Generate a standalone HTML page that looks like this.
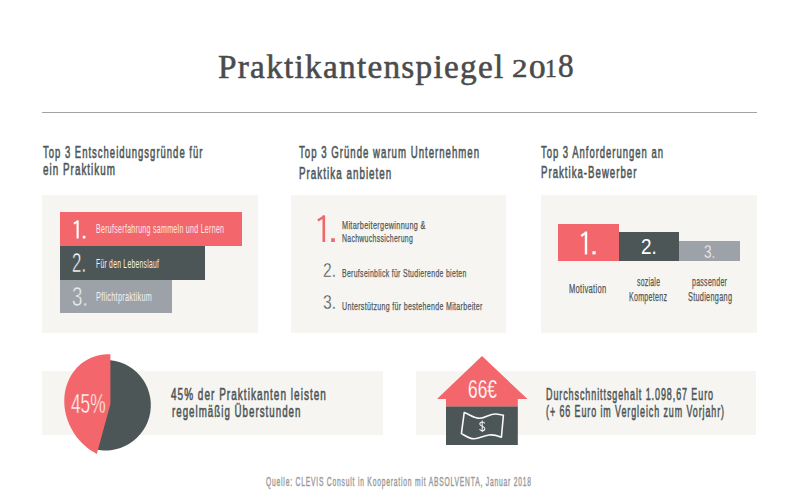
<!DOCTYPE html>
<html><head><meta charset="utf-8"><title>Praktikantenspiegel 2018</title>
<style>
html,body{margin:0;padding:0;background:#fff;}
body{width:800px;height:500px;position:relative;overflow:hidden;font-family:"Liberation Sans", sans-serif;}
.t{position:absolute;white-space:nowrap;line-height:1;transform-origin:0 0;}
.b{position:absolute;}
svg{position:absolute;left:0;top:0;}
</style></head><body>
<div class="b" style="left:42px;top:111.5px;width:715px;height:1.3px;background:#a3a3a3"></div>
<div class="b" style="left:42.2px;top:194.5px;width:216.1px;height:138.5px;background:#f6f5f1"></div>
<div class="b" style="left:291px;top:194.5px;width:215px;height:138px;background:#f6f5f1"></div>
<div class="b" style="left:541px;top:194.5px;width:215.6px;height:138.5px;background:#f6f5f1"></div>
<div class="b" style="left:41.6px;top:371px;width:341.2px;height:63.8px;background:#f6f5f1"></div>
<div class="b" style="left:416.2px;top:370.6px;width:340.3px;height:64.2px;background:#f6f5f1"></div>
<div class="b" style="left:59.6px;top:212px;width:182.1px;height:33.6px;background:#f3676c"></div>
<div class="b" style="left:59.6px;top:245.6px;width:145.3px;height:34px;background:#4c5657"></div>
<div class="b" style="left:59.6px;top:279.6px;width:112.8px;height:33px;background:#9da1a8"></div>
<div class="b" style="left:557.85px;top:224px;width:60.85px;height:36.6px;background:#f3676c"></div>
<div class="b" style="left:618.7px;top:232.3px;width:60.3px;height:28.3px;background:#4c5657"></div>
<div class="b" style="left:679px;top:240.7px;width:60.8px;height:19.9px;background:#9da1a8"></div>
<svg width="800" height="500" viewBox="0 0 800 500">
<path d="M105.6,405.2 L105.6,359.9 A45.3,45.3 0 1 1 91.6,448.3 Z" fill="#4c5657"/>
<polygon points="110.4,354.2 110.4,404 96.8,454 96.8,453.9 93.6,452.1 90.5,450.2 87.5,448.0 84.7,445.6 81.9,443.0 79.4,440.3 77.0,437.4 74.7,434.3 72.7,431.1 70.9,427.8 69.3,424.4 67.9,421.0 66.7,417.4 65.7,413.8 65.0,410.2 64.5,406.5 64.3,402.9 64.3,399.2 64.5,395.6 65.0,392.1 65.7,388.6 66.7,385.2 67.9,382.0 69.3,378.8 70.9,375.8 72.7,372.9 74.8,370.2 77.0,367.6 79.4,365.3 82.0,363.1 84.7,361.2 87.6,359.5 90.5,358.0 93.7,356.7 96.9,355.7 100.2,355.0 103.5,354.4 106.9,354.2 110.4,354.2" fill="#f3676c"/>
<polygon points="482,356 437,399.1 527.5,399.1" fill="#f3676c"/>
<rect x="446" y="399" width="71.8" height="7.6" fill="#f3676c"/>
<rect x="446" y="406.5" width="71.8" height="38.5" fill="#4c5657"/>
<path d="M464.2,412.6 C470,414.5 474,418.5 480,418.3 C486,418 490,413.5 496,414 C499,414.3 501.5,414.8 503.4,415.2 L501.4,437.2 C497,435.5 493,434.6 489,435 C483,435.6 479,439 474,438.8 C469,438.6 465,435.5 461.4,433.6 Z" fill="none" stroke="#f8f8f8" stroke-width="1.6" stroke-linejoin="round"/>
<path d="M484.8,423.4 C484.2,422.4 483.3,422 482.2,422 C480.8,422 479.8,422.9 479.8,424.1 C479.8,425.4 480.9,425.9 482.2,426.3 C483.7,426.7 484.8,427.3 484.8,428.7 C484.8,430 483.7,430.7 482.2,430.7 C481,430.7 480,430.2 479.5,429.3 M482.2,420.6 L482.2,432" fill="none" stroke="#eeeeee" stroke-width="1.1"/>
<g fill="#fff"><rect x="76.55" y="220.5" width="2.1" height="18"/><rect x="82.8" y="235.8" width="2.6" height="2.7"/></g>
<line x1="78.2" y1="221.2" x2="73.9" y2="223.6" stroke="#fff" stroke-width="1.9"/>
<g fill="#fff"><rect x="584.8" y="231.6" width="2.4" height="22.8"/><rect x="592.4" y="251.2" width="3.3" height="3.2"/></g>
<line x1="586.4" y1="232.4" x2="581.2" y2="236" stroke="#fff" stroke-width="2.2"/>
<g fill="#f0666b"><rect x="322.5" y="215.4" width="2.6" height="26.6"/><rect x="331.2" y="238.2" width="3.6" height="3.8"/></g>
<line x1="324.2" y1="216.4" x2="317.8" y2="220.4" stroke="#f0666b" stroke-width="2.4"/>
</svg>
<div class="t" id="title" style="left:218.30px;top:48.90px;font-size:34.38px;transform:scaleX(0.9685);color:#4b4b4b;font-family:'Liberation Serif', serif;font-weight:400;letter-spacing:1.3px;-webkit-text-stroke:0.55px #4b4b4b">Praktikantenspiegel</div>
<div class="t" id="d2" style="left:512.26px;top:56.00px;font-size:25.25px;transform:scaleX(1.2226);color:#4b4b4b;font-family:'Liberation Serif', serif;font-weight:400;-webkit-text-stroke:0.55px #4b4b4b">2</div>
<div class="t" id="d0" style="left:528.87px;top:56.50px;font-size:26.01px;transform:scaleX(1.2718);color:#4b4b4b;font-family:'Liberation Serif', serif;font-weight:400;-webkit-text-stroke:0.55px #4b4b4b">0</div>
<div class="t" id="d1" style="left:545.03px;top:57.00px;font-size:24.50px;transform:scaleX(0.9552);color:#4b4b4b;font-family:'Liberation Serif', serif;font-weight:400;-webkit-text-stroke:0.55px #4b4b4b">1</div>
<div class="t" id="d8" style="left:558.03px;top:48.50px;font-size:33.11px;transform:scaleX(0.9446);color:#4b4b4b;font-family:'Liberation Serif', serif;font-weight:400;-webkit-text-stroke:0.55px #4b4b4b">8</div>
<div class="t" id="h1a" style="left:42.92px;top:143.64px;font-size:16.02px;transform:scaleX(0.5918);color:#4e5758;font-family:'Liberation Sans', sans-serif;font-weight:400;letter-spacing:1.7px;-webkit-text-stroke:0.6px #4e5758">Top 3 Entscheidungsgründe für</div>
<div class="t" id="h1b" style="left:42.79px;top:160.54px;font-size:16.02px;transform:scaleX(0.6130);color:#4e5758;font-family:'Liberation Sans', sans-serif;font-weight:400;letter-spacing:1.7px;-webkit-text-stroke:0.6px #4e5758">ein Praktikum</div>
<div class="t" id="h2a" style="left:298.83px;top:144.29px;font-size:16.02px;transform:scaleX(0.5995);color:#4e5758;font-family:'Liberation Sans', sans-serif;font-weight:400;letter-spacing:1.7px;-webkit-text-stroke:0.6px #4e5758">Top 3 Gründe warum Unternehmen</div>
<div class="t" id="h2b" style="left:298.68px;top:165.29px;font-size:16.02px;transform:scaleX(0.6114);color:#4e5758;font-family:'Liberation Sans', sans-serif;font-weight:400;letter-spacing:1.7px;-webkit-text-stroke:0.6px #4e5758">Praktika anbieten</div>
<div class="t" id="h3a" style="left:540.96px;top:143.82px;font-size:16.15px;transform:scaleX(0.5861);color:#4e5758;font-family:'Liberation Sans', sans-serif;font-weight:400;letter-spacing:1.7px;-webkit-text-stroke:0.6px #4e5758">Top 3 Anforderungen an</div>
<div class="t" id="h3b" style="left:541.02px;top:163.92px;font-size:16.15px;transform:scaleX(0.5962);color:#4e5758;font-family:'Liberation Sans', sans-serif;font-weight:400;letter-spacing:1.7px;-webkit-text-stroke:0.6px #4e5758">Praktika-Bewerber</div>
<div class="t er" id="p1n2" style="left:71.96px;top:249.11px;font-size:27.43px;transform:scaleX(0.6151);color:#fff;font-family:'Liberation Sans', sans-serif;font-weight:400;-webkit-text-stroke:0.6px #4c5657">2.</div>
<div class="t er" id="p1n3" style="left:72.48px;top:283.01px;font-size:27.43px;transform:scaleX(0.6837);color:#eef0f2;font-family:'Liberation Sans', sans-serif;font-weight:400;-webkit-text-stroke:0.6px #9da1a8">3.</div>
<div class="t" id="p1t1" style="left:96.16px;top:223.43px;font-size:12.16px;transform:scaleX(0.5786);color:#fde9ea;font-family:'Liberation Sans', sans-serif;font-weight:400;letter-spacing:0.5px">Berufserfahrung sammeln und Lernen</div>
<div class="t" id="p1t2" style="left:96.20px;top:259.35px;font-size:11.91px;transform:scaleX(0.5661);color:#f2f2f2;font-family:'Liberation Sans', sans-serif;font-weight:400;letter-spacing:0.5px">Für den Lebenslauf</div>
<div class="t" id="p1t3" style="left:96.33px;top:291.95px;font-size:11.91px;transform:scaleX(0.6105);color:#f2f2f2;font-family:'Liberation Sans', sans-serif;font-weight:400;letter-spacing:0.5px">Pflichtpraktikum</div>
<div class="t er" id="p2n2" style="left:323.19px;top:260.84px;font-size:19.71px;transform:scaleX(0.7921);color:#434b4c;font-family:'Liberation Sans', sans-serif;font-weight:400;-webkit-text-stroke:0.35px #f6f5f1">2.</div>
<div class="t er" id="p2n3" style="left:323.20px;top:292.54px;font-size:19.71px;transform:scaleX(0.7977);color:#434b4c;font-family:'Liberation Sans', sans-serif;font-weight:400;-webkit-text-stroke:0.35px #f6f5f1">3.</div>
<div class="t" id="p2t1" style="left:341.80px;top:220.14px;font-size:10.95px;transform:scaleX(0.6651);color:#50585a;font-family:'Liberation Sans', sans-serif;font-weight:400;letter-spacing:0.5px;-webkit-text-stroke:0.25px #50585a">Mitarbeitergewinnung &amp;</div>
<div class="t" id="p2t2" style="left:341.82px;top:232.74px;font-size:10.95px;transform:scaleX(0.6295);color:#50585a;font-family:'Liberation Sans', sans-serif;font-weight:400;letter-spacing:0.5px;-webkit-text-stroke:0.25px #50585a">Nachwuchssicherung</div>
<div class="t" id="p2t3" style="left:341.85px;top:268.14px;font-size:10.95px;transform:scaleX(0.6321);color:#50585a;font-family:'Liberation Sans', sans-serif;font-weight:400;letter-spacing:0.5px;-webkit-text-stroke:0.25px #50585a">Berufseinblick für Studierende bieten</div>
<div class="t" id="p2t4" style="left:342.35px;top:300.84px;font-size:10.95px;transform:scaleX(0.6433);color:#50585a;font-family:'Liberation Sans', sans-serif;font-weight:400;letter-spacing:0.5px;-webkit-text-stroke:0.25px #50585a">Unterstützung für bestehende Mitarbeiter</div>
<div class="t" id="p3n2" style="left:641.07px;top:236.26px;font-size:22.42px;transform:scaleX(0.8457);color:#fff;font-family:'Liberation Sans', sans-serif;font-weight:400">2.</div>
<div class="t er" id="p3n3" style="left:704.08px;top:242.58px;font-size:18.62px;transform:scaleX(0.7295);color:#f4f5f7;font-family:'Liberation Sans', sans-serif;font-weight:400;-webkit-text-stroke:0.3px #9da1a8">3.</div>
<div class="t" id="p3t1" style="left:569.10px;top:283.33px;font-size:12.29px;transform:scaleX(0.6157);color:#50585a;font-family:'Liberation Sans', sans-serif;font-weight:400;letter-spacing:0.5px;-webkit-text-stroke:0.25px #50585a">Motivation</div>
<div class="t" id="p3t2" style="left:637.06px;top:276.03px;font-size:12.29px;transform:scaleX(0.5572);color:#50585a;font-family:'Liberation Sans', sans-serif;font-weight:400;letter-spacing:0.5px;-webkit-text-stroke:0.25px #50585a">soziale</div>
<div class="t" id="p3t3" style="left:629.37px;top:290.63px;font-size:12.29px;transform:scaleX(0.5743);color:#50585a;font-family:'Liberation Sans', sans-serif;font-weight:400;letter-spacing:0.5px;-webkit-text-stroke:0.25px #50585a">Kompetenz</div>
<div class="t" id="p3t4" style="left:691.61px;top:276.03px;font-size:12.29px;transform:scaleX(0.5686);color:#50585a;font-family:'Liberation Sans', sans-serif;font-weight:400;letter-spacing:0.5px;-webkit-text-stroke:0.25px #50585a">passender</div>
<div class="t" id="p3t5" style="left:688.36px;top:290.63px;font-size:12.29px;transform:scaleX(0.5939);color:#50585a;font-family:'Liberation Sans', sans-serif;font-weight:400;letter-spacing:0.5px;-webkit-text-stroke:0.25px #50585a">Studiengang</div>
<div class="t" id="b1a" style="left:171.16px;top:386.14px;font-size:16.39px;transform:scaleX(0.6089);color:#4e5758;font-family:'Liberation Sans', sans-serif;font-weight:400;letter-spacing:1.7px;-webkit-text-stroke:0.6px #4e5758">45% der Praktikanten leisten</div>
<div class="t" id="b1b" style="left:171.87px;top:402.54px;font-size:16.39px;transform:scaleX(0.5948);color:#4e5758;font-family:'Liberation Sans', sans-serif;font-weight:400;letter-spacing:1.7px;-webkit-text-stroke:0.6px #4e5758">regelmäßig Überstunden</div>
<div class="t er" id="pct" style="left:70.55px;top:389.02px;font-size:28.26px;transform:scaleX(0.6123);color:#fff;font-family:'Liberation Sans', sans-serif;font-weight:400;-webkit-text-stroke:0.5px #f3676c">45%</div>
<div class="t" id="b2a" style="left:546.49px;top:386.14px;font-size:16.39px;transform:scaleX(0.5466);color:#4e5758;font-family:'Liberation Sans', sans-serif;font-weight:400;letter-spacing:1.7px;-webkit-text-stroke:0.6px #4e5758">Durchschnittsgehalt 1.098,67 Euro</div>
<div class="t" id="b2b" style="left:546.22px;top:402.84px;font-size:16.39px;transform:scaleX(0.5437);color:#4e5758;font-family:'Liberation Sans', sans-serif;font-weight:400;letter-spacing:1.7px;-webkit-text-stroke:0.6px #4e5758">(+ 66 Euro im Vergleich zum Vorjahr)</div>
<div class="t er" id="eur" style="left:467.74px;top:377.20px;font-size:25.63px;transform:scaleX(0.6769);color:#fff;font-family:'Liberation Sans', sans-serif;font-weight:400;-webkit-text-stroke:0.25px #f3676c">66€</div>
<div class="t" id="foot" style="left:266.03px;top:476.26px;font-size:12.57px;transform:scaleX(0.5340);color:#9b9b9b;font-family:'Liberation Sans', sans-serif;font-weight:400;letter-spacing:1.5px;-webkit-text-stroke:0.45px #9b9b9b">Quelle: CLEVIS Consult in Kooperation mit ABSOLVENTA, Januar 2018</div>
</body></html>
